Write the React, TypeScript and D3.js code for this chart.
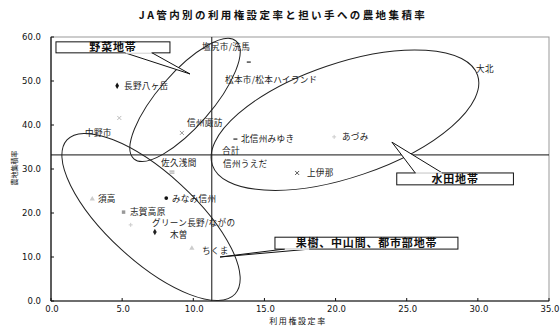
import React from "react";
import * as d3 from "d3";

const TITLE = "JA管内別の利用権設定率と担い手への農地集積率";
const X_TITLE = "利用権設定率";
const Y_TITLE = "農地集積率";

const names = [
  "塩尻市/洗馬", "松本市/松本ハイランド", "長野八ヶ岳", "信州諏訪", "中野市",
  "北信州みゆき", "あづみ", "合計", "信州うえだ", "佐久浅間", "上伊那",
  "みなみ信州", "須高", "志賀高原", "グリーン長野/ながの", "木曽", "ちくま", "大北",
];
// 利用権設定率
const rateX = [13.9, 12.0, 4.65, 9.2, 4.8, 12.96, 19.9, 11.3, 11.7, 8.5, 17.3, 8.1, 2.9, 5.1, 5.6, 7.3, 9.9, 29.5];
// 農地集積率
const shareY = [54.3, 50.5, 48.9, 38.2, 41.6, 36.8, 37.3, 33.2, 31.4, 29.3, 29.1, 23.4, 23.2, 20.2, 17.3, 15.7, 12.0, 52.7];

// label anchor (data units)
const labelX = [10.61, 12.23, 5.13, 9.56, 2.39, 13.35, 20.45, 12.02, 12.09, 7.73, 17.99, 8.5, 3.3, 5.55, 7.1, 8.36, 10.61, 29.87];
const labelY = [57.7, 50.2, 48.9, 40.5, 38.2, 36.8, 37.3, 34.2, 31.1, 31.4, 29.1, 23.2, 23.2, 20.2, 17.8, 14.9, 11.4, 52.7];

const markers = ["dash", "none", "diamond", "x", "x", "dash", "plus", "none", "none", "dash2", "x", "circle", "triangle", "square", "plus", "diamond", "triangle", "none"];
const markerColors = ["#333", "#333", "#111", "#999", "#bbb", "#333", "#ccc", "#333", "#333", "#999", "#555", "#111", "#ccc", "#999", "#ccc", "#222", "#ccc", "#333"];

const xTicks = [0, 5, 10, 15, 20, 25, 30, 35];
const yTicks = [0, 10, 20, 30, 40, 50, 60];

const TOTAL = names.indexOf("合計");

// Annotations (data-unit anchors)
const ellipses = [
  { cx: 9.42, cy: 45.7, rx: 78, ry: 27, angle: -49 },
  { cx: 7.03, cy: 19.1, rx: 114, ry: 44, angle: 42.5 },
  { cx: 20.66, cy: 41.1, rx: 140, ry: 57, angle: -18.7 },
];
const callouts = [
  { text: "野菜地帯", x0: 0.35, x1: 8.36, y0: 58.9, y1: 56.4, b1: [5.2, 56.4], b2: [7.1, 56.4], tip: [9.77, 51.6] },
  { text: "水田地帯", x0: 24.3, x1: 32.5, y0: 29.1, y1: 26.4, b1: [25.6, 29.1], b2: [27.5, 29.1], tip: [23.96, 36.1] },
  { text: "果樹、中山間、都市部地帯", x0: 15.74, x1: 28.6, y0: 14.5, y1: 11.8, b1: [16.4, 11.8], b2: [18.2, 11.8], tip: [11.88, 10.0] },
];

const JP = "'Noto Sans CJK JP', 'Noto Sans', sans-serif";

function Marker({ type, cx, cy, color }: { type: string; cx: number; cy: number; color: string }) {
  if (type === "none") return null;
  if (type === "dash") return <line x1={cx - 2} x2={cx + 2} y1={cy} y2={cy} stroke={color} strokeWidth={1.3} />;
  if (type === "dash2")
    return (
      <g stroke={color} strokeWidth={1}>
        <line x1={cx - 2.5} x2={cx + 2.5} y1={cy - 1} y2={cy - 1} />
        <line x1={cx - 2.5} x2={cx + 2.5} y1={cy + 1} y2={cy + 1} />
      </g>
    );
  if (type === "x")
    return (
      <g stroke={color} strokeWidth={1}>
        <line x1={cx - 2} x2={cx + 2} y1={cy - 2} y2={cy + 2} />
        <line x1={cx - 2} x2={cx + 2} y1={cy + 2} y2={cy - 2} />
      </g>
    );
  if (type === "plus")
    return (
      <g stroke={color} strokeWidth={1}>
        <line x1={cx - 2} x2={cx + 2} y1={cy} y2={cy} />
        <line x1={cx} x2={cx} y1={cy - 2} y2={cy + 2} />
      </g>
    );
  const sym =
    type === "diamond" ? d3.symbolDiamond : type === "circle" ? d3.symbolCircle : type === "triangle" ? d3.symbolTriangle : d3.symbolSquare;
  const d = d3.symbol().type(sym).size(type === "circle" ? 11 : 12)() as string;
  return <path d={d} transform={`translate(${cx},${cy})`} fill={color} />;
}

export default function App() {
  const x = d3.scaleLinear().domain([0, 35]).range([51, 549]);
  const y = d3.scaleLinear().domain([0, 60]).range([301, 37]);
  const fmt = d3.format(".1f");
  const [x0, x1] = x.range();
  const [y0, y1] = y.range();

  return (
    <svg width={560} height={336} style={{ position: "absolute", left: 0, top: 0, background: "#fff" }}>
      <rect x={0} y={0} width={560} height={336} fill="#fff" />
      <text x={283} y={19} textAnchor="middle" fontFamily={JP} fontWeight="bold" fontSize={10.5} letterSpacing={2.4} fill="#111">
        {TITLE}
      </text>

      {/* plot frame */}
      <rect x={x0} y={y1} width={x1 - x0} height={y0 - y1} fill="none" stroke="#999" strokeWidth={1} />
      <line x1={x0} x2={x0} y1={y1} y2={y0} stroke="#111" strokeWidth={1.2} />
      <line x1={x0} x2={x1} y1={y0} y2={y0} stroke="#111" strokeWidth={1.2} />

      {yTicks.map((t) => (
        <g key={"y" + t}>
          <line x1={x0} x2={x0 + 3} y1={y(t)} y2={y(t)} stroke="#111" />
          <text x={41} y={y(t)} dy="0.35em" textAnchor="end" fontFamily="'DejaVu Sans', sans-serif" fontSize={8.5} fill="#111">
            {fmt(t)}
          </text>
        </g>
      ))}
      {xTicks.map((t) => (
        <g key={"x" + t}>
          <line x1={x(t)} x2={x(t)} y1={y0} y2={y0 - 3} stroke="#111" />
          <text x={x(t) + 1} y={309} dy="0.35em" textAnchor="middle" fontFamily="'DejaVu Sans', sans-serif" fontSize={8.5} fill="#111">
            {fmt(t)}
          </text>
        </g>
      ))}

      <text x={298} y={321} dy="0.35em" textAnchor="middle" fontFamily={JP} fontSize={8} letterSpacing={1.6} fill="#111">
        {X_TITLE}
      </text>
      <text
        transform={`translate(15,168) rotate(-90)`}
        textAnchor="middle"
        dy="0.35em"
        fontFamily={JP}
        fontSize={7}
        fill="#111"
      >
        {Y_TITLE}
      </text>

      {/* reference lines at 合計 */}
      <line x1={x(rateX[TOTAL])} x2={x(rateX[TOTAL])} y1={y1} y2={y0} stroke="#111" strokeWidth={1} />
      <line x1={x0} x2={x1} y1={y(shareY[TOTAL])} y2={y(shareY[TOTAL])} stroke="#111" strokeWidth={1} />

      {/* ellipses */}
      {ellipses.map((e, i) => (
        <ellipse
          key={"e" + i}
          cx={x(e.cx)}
          cy={y(e.cy)}
          rx={e.rx}
          ry={e.ry}
          transform={`rotate(${e.angle} ${x(e.cx)} ${y(e.cy)})`}
          fill="none"
          stroke="#222"
          strokeWidth={1}
        />
      ))}

      {/* points */}
      {names.map((n, i) => (
        <Marker key={"m" + i} type={markers[i]} cx={x(rateX[i])} cy={y(shareY[i])} color={markerColors[i]} />
      ))}
      {names.map((n, i) => (
        <text
          key={"l" + i}
          x={x(labelX[i])}
          y={y(labelY[i])}
          dy="0.35em"
          fontFamily={JP}
          fontSize={8.6}
          letterSpacing={0.3}
          fill="#222"
        >
          {n}
        </text>
      ))}

      {/* callouts */}
      {callouts.map((c, i) => (
        <g key={"c" + i}>
          <path
            d={`M${x(c.b1[0])},${y(c.b1[1])}L${x(c.tip[0])},${y(c.tip[1])}L${x(c.b2[0])},${y(c.b2[1])}`}
            fill="#fff"
            stroke="#111"
            strokeWidth={1}
          />
          <rect x={x(c.x0)} y={y(c.y0)} width={x(c.x1) - x(c.x0)} height={y(c.y1) - y(c.y0)} fill="#fff" stroke="#111" strokeWidth={1} />
          <line x1={x(c.b1[0]) + 0.5} x2={x(c.b2[0]) - 0.5} y1={y(c.b1[1])} y2={y(c.b2[1])} stroke="#fff" strokeWidth={1.5} />
          <text
            x={(x(c.x0) + x(c.x1)) / 2}
            y={(y(c.y0) + y(c.y1)) / 2}
            dy="0.36em"
            textAnchor="middle"
            fontFamily={JP}
            fontWeight="bold"
            fontSize={11}
            letterSpacing={0.8}
            fill="#111"
          >
            {c.text}
          </text>
        </g>
      ))}
    </svg>
  );
}
